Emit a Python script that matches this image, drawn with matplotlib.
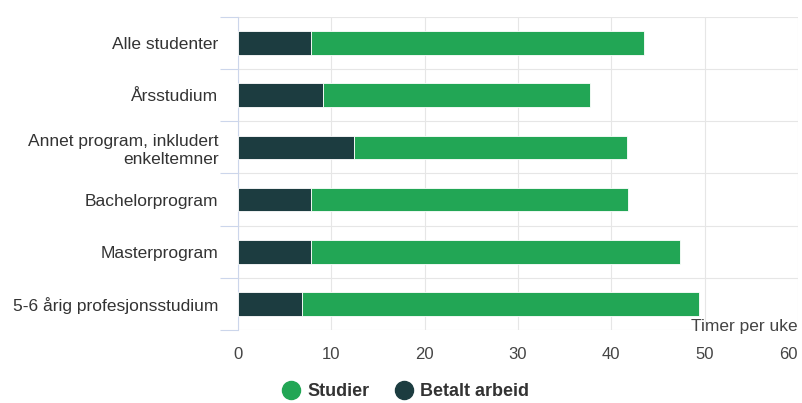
import numpy as np
import matplotlib.pyplot as plt
from matplotlib.lines import Line2D

plt.rcParams['font.family'] = ['Liberation Sans', 'DejaVu Sans']

categories = ['Alle studenter', 'Årsstudium', 'Annet program, inkludert\nenkeltemner',
              'Bachelorprogram', 'Masterprogram', '5-6 årig profesjonsstudium']
betalt_arbeid = [7.8, 9.1, 12.4, 7.8, 7.8, 6.9]
studier = [35.7, 28.6, 29.3, 34.0, 39.6, 42.5]

green = '#22a655'
dark = '#1c3c40'

fig = plt.figure(figsize=(8.02, 4.03), dpi=100)
ax = fig.add_axes([0.2968, 0.181, 0.6982, 0.777])

y = np.arange(len(categories))
ax.barh(y, betalt_arbeid, height=0.45, color=dark, edgecolor='white', linewidth=0.6, zorder=3)
ax.barh(y, studier, left=betalt_arbeid, height=0.45, color=green, edgecolor='white', linewidth=0.6, zorder=3)

ax.set_xlim(0, 60)
ax.set_ylim(len(categories) - 0.5, -0.5)
ax.set_xticks(range(0, 61, 10))
ax.set_yticks(y)
ax.set_yticklabels(categories, multialignment='right', linespacing=1.3)
ax.set_yticks(np.arange(-0.5, len(categories), 1), minor=True)

ax.grid(axis='x', color='#e6e6e6', linewidth=0.8, zorder=0)
ax.grid(axis='y', which='minor', color='#e6e6e6', linewidth=0.8, zorder=0)
for s in ['top', 'right', 'bottom']:
    ax.spines[s].set_visible(False)
ax.spines['left'].set_color('#ccd6eb')
ax.tick_params(axis='y', which='major', length=0, pad=14, labelsize=12.5, labelcolor='#333333')
ax.tick_params(axis='y', which='minor', length=13, color='#ccd6eb', width=0.8)
ax.tick_params(axis='x', length=0, pad=12, labelsize=12, labelcolor='#444444')
ax.get_xticklabels()[-1].set_horizontalalignment('right')

ax.text(1.0, 0.01, 'Timer per uke', transform=ax.transAxes, ha='right', va='center',
        fontsize=12.5, color='#444444')

handles = [Line2D([], [], marker='o', linestyle='', markersize=13, color=green),
           Line2D([], [], marker='o', linestyle='', markersize=13, color=dark)]
leg = fig.legend(handles, ['Studier', 'Betalt arbeid'], loc='center', bbox_to_anchor=(0.506, 0.028),
                 ncol=2, frameon=False, handlelength=1.0, handletextpad=0.4, columnspacing=1.4,
                 prop={'weight': 'bold', 'size': 13})
for t in leg.get_texts():
    t.set_color('#333333')

fig.savefig('out.png', dpi=100)
